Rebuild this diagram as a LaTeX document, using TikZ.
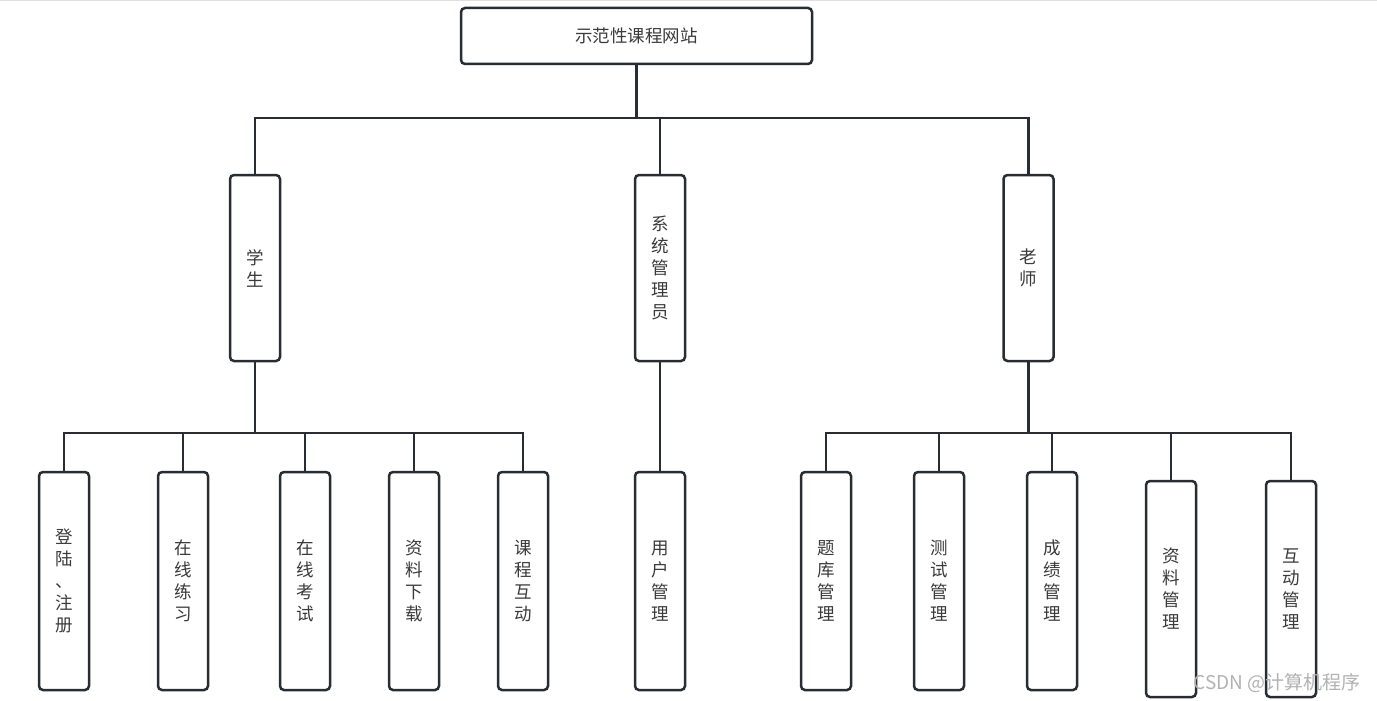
\documentclass[tikz,border=0pt]{standalone}
\usepackage{fontspec}
\setmainfont{Noto Sans CJK SC}
\definecolor{boxline}{HTML}{282C33}
\definecolor{txt}{HTML}{3A3A3A}
\tikzset{
  box/.style={draw=boxline, line width=2.5pt, rounded corners=4pt, fill=white,
    inner sep=0pt, align=center, text=txt,
    font=\fontsize{17.5pt}{22pt}\selectfont},
  midbox/.style={box, minimum width=50pt, minimum height=186pt},
  leafbox/.style={box, minimum width=50pt, minimum height=218pt},
  link/.style={draw=boxline, line width=2.5pt},
}

\begin{document}
\begin{tikzpicture}[x=1pt, y=-1pt]
  \useasboundingbox (0,0) rectangle (1377,701);
  \draw[black!12, line width=1.5pt] (0,0.75) -- (1377,0.75);

  % top
  \node[box, minimum width=351pt, minimum height=56pt] (site) at (636.5,36) {示范性课程网站};

  % second level
  \node[midbox] (student) at (255,268) {学\\生};
  \node[midbox] (admin) at (660,268) {系\\统\\管\\理\\员};
  \node[midbox] (teacher) at (1028.5,268) {老\\师};

  % student leaves
  \node[leafbox] (login) at (64,581) {登\\陆\\、\\注\\册};
  \node[leafbox] (practice) at (183,581) {在\\线\\练\\习};
  \node[leafbox] (exam) at (305,581) {在\\线\\考\\试};
  \node[leafbox] (download) at (414,581) {资\\料\\下\\载};
  \node[leafbox] (interact) at (523,581) {课\\程\\互\\动};

  % admin leaf
  \node[leafbox] (users) at (660,581) {用\\户\\管\\理};

  % teacher leaves
  \node[leafbox] (bank) at (826,581) {题\\库\\管\\理};
  \node[leafbox] (tests) at (939,581) {测\\试\\管\\理};
  \node[leafbox] (grades) at (1052,581) {成\\绩\\管\\理};
  \node[leafbox, minimum height=216pt] (files) at (1171,589) {资\\料\\管\\理};
  \node[leafbox, minimum height=216pt] (talk) at (1291,589) {互\\动\\管\\理};

  % bars
  \coordinate (topbar) at (636.5,118);
  \coordinate (stubar) at (255,433);
  \coordinate (teabar) at (1028.5,433);

  \draw[link] (site) -- (topbar);
  \draw[link] (student.north) |- (topbar) -| (teacher.north);
  \draw[link] (admin.north) -- (admin.north |- topbar);

  \draw[link] (student.south) -- (stubar);
  \draw[link] (login.north) |- (stubar) -| (interact.north);
  \draw[link] (practice.north) -- (practice.north |- stubar);
  \draw[link] (exam.north) -- (exam.north |- stubar);
  \draw[link] (download.north) -- (download.north |- stubar);

  \draw[link] (admin.south) -- (users.north);

  \draw[link] (teacher.south) -- (teabar);
  \draw[link] (bank.north) |- (teabar) -| (talk.north);
  \draw[link] (tests.north) -- (tests.north |- teabar);
  \draw[link] (grades.north) -- (grades.north |- teabar);
  \draw[link] (files.north) -- (files.north |- teabar);

  % watermark
  \node[text=black!30, font=\fontsize{19pt}{19pt}\selectfont, anchor=east] (mark) at (1364,683) {CSDN @计算机程序};
\end{tikzpicture}
\end{document}
